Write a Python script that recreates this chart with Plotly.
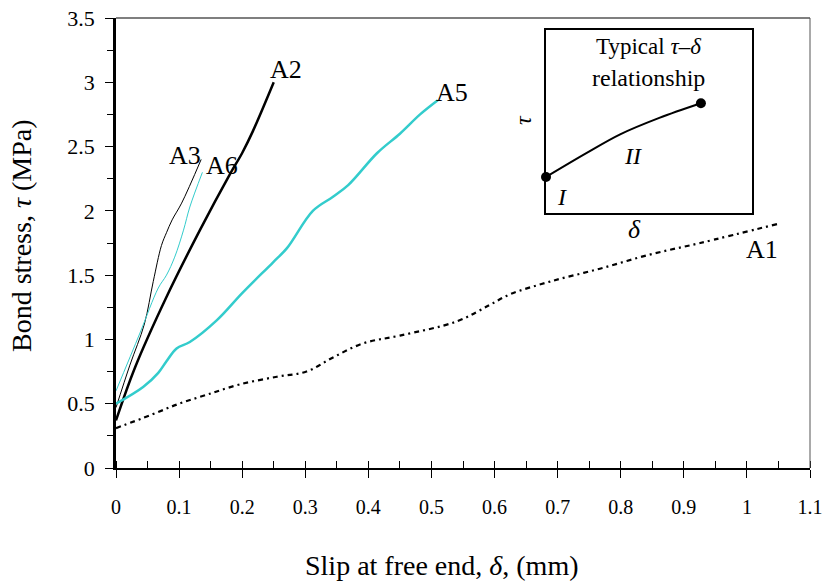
import plotly.graph_objects as go

# ---- data ----
a1_x = [0, 0.054, 0.1, 0.144, 0.196, 0.255, 0.302, 0.344, 0.392, 0.45, 0.54, 0.593, 0.624, 0.688, 0.767, 0.846, 0.926, 1.05]
a1_y = [0.31, 0.41, 0.5, 0.57, 0.65, 0.71, 0.75, 0.86, 0.97, 1.03, 1.14, 1.27, 1.35, 1.45, 1.55, 1.66, 1.75, 1.9]

a2_x = [0, 0.03, 0.08, 0.133, 0.18, 0.2, 0.217, 0.25]
a2_y = [0.37, 0.78, 1.33, 1.85, 2.28, 2.45, 2.62, 3.0]

a3_x = [0, 0.022, 0.045, 0.059, 0.072, 0.08, 0.089, 0.104, 0.135]
a3_y = [0.47, 0.8, 1.12, 1.45, 1.73, 1.83, 1.93, 2.06, 2.4]

a5_x = [0, 0.043, 0.067, 0.08, 0.096, 0.117, 0.16, 0.2, 0.249, 0.271, 0.312, 0.344, 0.368, 0.414, 0.45, 0.482, 0.51]
a5_y = [0.5, 0.63, 0.74, 0.83, 0.93, 0.98, 1.15, 1.36, 1.6, 1.71, 2.0, 2.11, 2.2, 2.45, 2.6, 2.75, 2.86]

a6_x = [0, 0.038, 0.067, 0.08, 0.093, 0.107, 0.117, 0.137]
a6_y = [0.6, 1.05, 1.4, 1.5, 1.64, 1.85, 2.03, 2.3]

labels = ["A1", "A2", "A3", "A5", "A6"]
label_x = [1.024, 0.27, 0.11, 0.533, 0.168]
label_y = [1.7, 3.1, 2.43, 2.92, 2.35]

x_ticks = [0, 0.1, 0.2, 0.3, 0.4, 0.5, 0.6, 0.7, 0.8, 0.9, 1, 1.1]
x_ticktext = ["0", "0.1", "0.2", "0.3", "0.4", "0.5", "0.6", "0.7", "0.8", "0.9", "1", "1.1"]
y_ticks = [0, 0.5, 1, 1.5, 2, 2.5, 3, 3.5]
y_ticktext = ["0", "0.5", "1", "1.5", "2", "2.5", "3", "3.5"]

# inset typical relationship
inset_x = [0, 0.2, 0.36, 0.55, 0.752]
inset_y = [0.197, 0.33, 0.43, 0.52, 0.6]

CYAN = "#33CCCC"
FONT = "Liberation Serif"

fig = go.Figure()
fig.add_trace(go.Scatter(x=a1_x, y=a1_y, mode="lines", line=dict(color="black", width=2.2, dash="5px,4px,2px,4px", shape="spline"), showlegend=False))
fig.add_trace(go.Scatter(x=a2_x, y=a2_y, mode="lines", line=dict(color="black", width=2.5, shape="spline"), showlegend=False))
fig.add_trace(go.Scatter(x=a3_x, y=a3_y, mode="lines", line=dict(color="black", width=1, shape="spline"), showlegend=False))
fig.add_trace(go.Scatter(x=a5_x, y=a5_y, mode="lines", line=dict(color=CYAN, width=2.5, shape="spline"), showlegend=False))
fig.add_trace(go.Scatter(x=a6_x, y=a6_y, mode="lines", line=dict(color=CYAN, width=1, shape="spline"), showlegend=False))

# inset
fig.add_trace(go.Scatter(x=inset_x, y=inset_y, mode="lines", line=dict(color="black", width=2, shape="spline"),
                         xaxis="x2", yaxis="y2", showlegend=False, cliponaxis=False))
fig.add_trace(go.Scatter(x=[inset_x[0], inset_x[-1]], y=[inset_y[0], inset_y[-1]], mode="markers",
                         marker=dict(color="black", size=10), xaxis="x2", yaxis="y2", showlegend=False, cliponaxis=False))

for t, lx, ly in zip(labels, label_x, label_y):
    fig.add_annotation(x=lx, y=ly, text=t, showarrow=False, font=dict(family=FONT, size=26, color="black"))

fig.add_annotation(x=0.5, y=0.91, xref="x2", yref="y2", text="Typical <i>τ</i>–<i>δ</i>", showarrow=False,
                   font=dict(family=FONT, size=23, color="black"))
fig.add_annotation(x=0.5, y=0.74, xref="x2", yref="y2", text="relationship", showarrow=False,
                   font=dict(family=FONT, size=24, color="black"))
fig.add_annotation(x=0.08, y=0.09, xref="x2", yref="y2", text="<i>I</i>", showarrow=False,
                   font=dict(family=FONT, size=24, color="black"))
fig.add_annotation(x=0.42, y=0.31, xref="x2", yref="y2", text="<i>II</i>", showarrow=False,
                   font=dict(family=FONT, size=24, color="black"))
# inset axis symbols
fig.add_annotation(x=0.7464, y=0.5289, xref="paper", yref="paper", text="<i>δ</i>", showarrow=False,
                   xanchor="center", yanchor="middle", font=dict(family=FONT, size=26, color="black"))
fig.add_annotation(x=0.5865, y=0.7733, xref="paper", yref="paper", text="<i>τ</i>", showarrow=False, textangle=-90,
                   xanchor="center", yanchor="middle", font=dict(family=FONT, size=24, color="black"))

# axis titles
fig.add_annotation(x=0.47, y=-0.2156, xref="paper", yref="paper", text="Slip at free end, <i>δ</i>, (mm)",
                   showarrow=False, yanchor="middle", font=dict(family=FONT, size=28, color="black"))
fig.add_annotation(x=-0.1354, y=0.5156, xref="paper", yref="paper", text="Bond stress, <i>τ</i> (MPa)",
                   showarrow=False, textangle=-90, xanchor="center", yanchor="middle",
                   font=dict(family=FONT, size=28, color="black"))

fig.update_layout(
    width=824, height=584,
    margin=dict(l=116, r=14, t=18, b=116),
    paper_bgcolor="white", plot_bgcolor="white",
    font=dict(family=FONT, color="black"),
    xaxis=dict(range=[0, 1.1], tickvals=x_ticks, ticktext=x_ticktext, showgrid=False, zeroline=False, automargin=False,
               showline=True, linecolor="black", linewidth=2, ticks="outside", ticklen=8, tickwidth=1.2,
               tickcolor="black", ticklabelstandoff=12,
               minor=dict(dtick=0.05, ticks="inside", ticklen=7, tickcolor="black", tickwidth=1),
               tickfont=dict(family=FONT, size=20, color="black")),
    yaxis=dict(range=[0, 3.5], tickvals=y_ticks, ticktext=y_ticktext, showgrid=False, zeroline=False, automargin=False,
               showline=True, linecolor="black", linewidth=2.5, ticks="outside", ticklen=8, tickwidth=1.2,
               tickcolor="black", ticklabelstandoff=6,
               minor=dict(dtick=0.25, ticks="outside", ticklen=6, tickcolor="black", tickwidth=1),
               tickfont=dict(family=FONT, size=22, color="black")),
    xaxis2=dict(domain=[0.6196, 0.9164], anchor="y2", range=[0, 1], showgrid=False, zeroline=False, automargin=False,
                showline=True, mirror=True, linecolor="black", linewidth=2, showticklabels=False, ticks=""),
    yaxis2=dict(domain=[0.5667, 0.9733], anchor="x2", range=[0, 1], showgrid=False, zeroline=False, automargin=False,
                showline=True, mirror=True, linecolor="black", linewidth=2, showticklabels=False, ticks=""),
    shapes=[
        dict(type="line", xref="paper", yref="paper", x0=0, x1=1, y0=1, y1=1, line=dict(color="black", width=1.2)),
        dict(type="line", xref="paper", yref="paper", x0=1, x1=1, y0=0, y1=1, line=dict(color="#555555", width=1)),
    ],
)

fig.write_html("out.html")
